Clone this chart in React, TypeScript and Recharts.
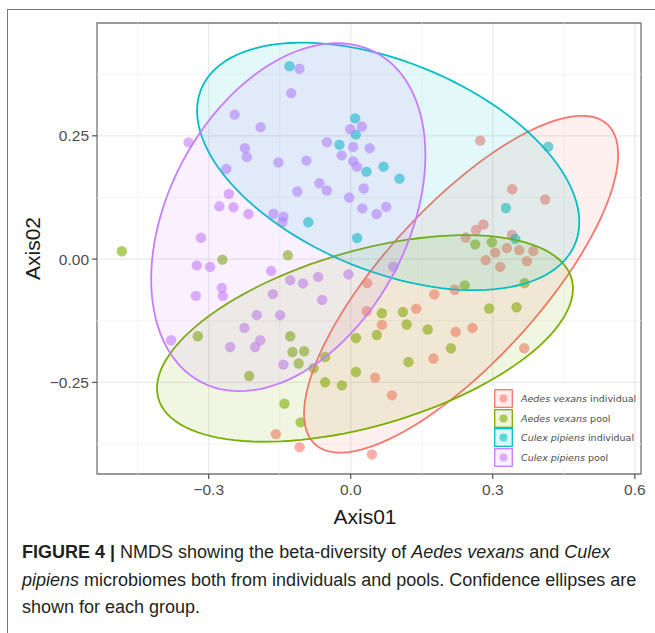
import React from 'react';
import { ScatterChart, Scatter, XAxis, YAxis, CartesianGrid, ReferenceLine, ReferenceArea, Legend } from 'recharts';

// NMDS scores: [Axis01, Axis02]
const AEDES_INDIVIDUAL: [number, number][] = [
  [0.2734, 0.2404], [0.341, 0.1417], [0.4107, 0.1209], [0.2804, 0.0701], [0.2645, 0.0589],
  [0.2428, 0.0437], [0.3404, 0.0488], [0.3051, 0.0132], [0.3298, 0.0224], [0.3558, 0.0183],
  [0.3854, 0.0163], [0.285, -0.002], [0.3157, -0.0157], [0.3721, -0.0041], [0.2195, -0.0622],
  [0.1766, -0.0715], [0.0347, -0.0488], [0.0336, -0.1057], [0.1382, -0.1006], [0.0657, -0.1335],
  [0.2216, -0.1478], [0.2569, -0.1396], [0.3664, -0.1809], [0.1747, -0.2018], [0.0516, -0.2404],
  [0.0868, -0.2764], [0.0446, -0.3963], [-0.1583, -0.3551], [-0.108, -0.3815],
];

const AEDES_POOL: [number, number][] = [
  [-0.4836, 0.0159], [-0.2711, -0.001], [-0.1329, 0.0077], [-0.3231, -0.1565], [-0.128, -0.1565],
  [-0.1232, -0.1884], [-0.0985, -0.187], [-0.1101, -0.2118], [-0.0541, -0.1986], [-0.0788, -0.2215],
  [-0.2147, -0.2372], [-0.0541, -0.25], [-0.0188, -0.2561], [-0.1401, -0.2933], [-0.1059, -0.3313],
  [0.011, -0.16], [0.011, -0.2291], [0.0551, -0.1539], [0.0657, -0.1098], [0.1101, -0.1073],
  [0.1181, -0.1327], [0.1625, -0.1429], [0.2115, -0.1809], [0.1219, -0.2087], [0.2924, -0.1002],
  [0.3501, -0.0976], [0.2407, -0.0533], [0.367, -0.0488], [0.2628, 0.0299], [0.2981, 0.0341],
];

const CULEX_INDIVIDUAL: [number, number][] = [
  [-0.1295, 0.3913], [0.0093, 0.2856], [0.0108, 0.2526], [-0.0239, 0.2321], [0.0332, 0.1774],
  [0.0691, 0.1876], [0.1029, 0.1632], [-0.0896, 0.0748], [0.0135, 0.0427], [0.4171, 0.2282],
  [0.3277, 0.1037], [0.3473, 0.0411],
];

const CULEX_POOL: [number, number][] = [
  [-0.1084, 0.3862], [-0.1259, 0.3368], [-0.2453, 0.2931], [-0.1904, 0.2677], [-0.3425, 0.2368],
  [-0.2237, 0.225], [-0.2195, 0.2073], [-0.2628, 0.1829], [-0.153, 0.1961], [-0.0936, 0.1998],
  [-0.0505, 0.2372], [-0.0013, 0.2636], [0.0235, 0.2689], [0.0051, 0.2276], [-0.0192, 0.2104],
  [0.0051, 0.1982], [0.0129, 0.1876], [0.0399, 0.225], [-0.0661, 0.1539], [-0.0505, 0.1392],
  [-0.1128, 0.1372], [-0.0034, 0.125], [0.0273, 0.1433], [0.0245, 0.103], [0.0547, 0.0915],
  [0.0748, 0.1063], [-0.2576, 0.1321], [-0.2776, 0.1071], [-0.2478, 0.1051], [-0.2161, 0.0915],
  [-0.1633, 0.0921], [-0.1422, 0.086], [-0.1443, 0.0752], [-0.3165, 0.0433], [-0.3252, -0.0128],
  [-0.2971, -0.0157], [-0.1682, -0.0238], [-0.128, -0.0427], [-0.101, -0.0494], [-0.0689, -0.036],
  [-0.0049, -0.0309], [0.0896, -0.0152], [-0.3273, -0.0746], [-0.2723, -0.0583], [-0.2702, -0.0746],
  [-0.1646, -0.0711], [-0.0604, -0.0827], [-0.1984, -0.1138], [-0.1492, -0.1138], [-0.2246, -0.1396],
  [-0.3795, -0.1646], [-0.2548, -0.1783], [-0.1914, -0.1646], [-0.202, -0.1783], [-0.1422, -0.214],
];

const SPECIES = ['Aedes vexans', 'Aedes vexans', 'Culex pipiens', 'Culex pipiens'];
const SAMPLE = ['individual', 'pool', 'individual', 'pool'];
const COLORS = ['#F8766D', '#7CAE00', '#00BFC4', '#C77CFF'];
const SERIES = [AEDES_INDIVIDUAL, AEDES_POOL, CULEX_INDIVIDUAL, CULEX_POOL];

// confidence ellipses: centre x, centre y, semi-major, semi-minor, rotation (deg)
const ELLIPSES: [number, number, number, number, number][] = [
  [0.233, -0.051, 0.448, 0.1615, 46.1],
  [0.03, -0.161, 0.453, 0.178, 15.4],
  [0.079, 0.188, 0.425, 0.213, -21.2],
  [-0.132, 0.085, 0.382, 0.25, 59.6],
];

const X_TICKS = [-0.3, 0, 0.3, 0.6];
const Y_TICKS = [-0.25, 0, 0.25];
const X_MINOR = [-0.45, -0.15, 0.15, 0.45];
const Y_MINOR = [-0.375, -0.125, 0.125, 0.375];
const X_DOMAIN = [-0.536, 0.613];
const Y_DOMAIN = [-0.436, 0.479];

const fmt = (digits: number) => (v: number) => v.toFixed(digits).replace('-', '\u2212');

const outline = (e: [number, number, number, number, number]) => {
  const [cx, cy, a, b, deg] = e;
  const r = (deg * Math.PI) / 180;
  return Array.from({ length: 121 }, (_, i) => {
    const t = (i / 120) * Math.PI * 2;
    return {
      x: cx + a * Math.cos(t) * Math.cos(r) - b * Math.sin(t) * Math.sin(r),
      y: cy + a * Math.cos(t) * Math.sin(r) + b * Math.sin(t) * Math.cos(r),
    };
  });
};

const ellipseLine = (color: string) => (props: any) => {
  const pts = (props.points || []).filter((p: any) => p.x != null && p.y != null);
  const d = pts.map((p: any, i: number) => `${i ? 'L' : 'M'}${p.x},${p.y}`).join('') + 'Z';
  return <path d={d} fill={color} fillOpacity={0.11} stroke={color} strokeWidth={1.8} />;
};

const dot = (color: string) => (props: any) => (
  <circle cx={props.cx} cy={props.cy} r={5.2} fill={color} fillOpacity={0.6} />
);

const renderLegend = () => (
  <div style={{ background: '#fff', width: 146, height: 82, padding: '4px 0 0 7px', boxSizing: 'border-box' }}>
    {SPECIES.map((sp, i) => (
      <div key={i} style={{ display: 'flex', alignItems: 'center', height: 19.6 }}>
        <svg width={19} height={19} style={{ flex: 'none' }}>
          <rect x={0.7} y={0.7} width={17.6} height={17.6} fill={COLORS[i]} fillOpacity={0.12} stroke={COLORS[i]} strokeWidth={1.3} />
          <circle cx={9.5} cy={9.5} r={4} fill={COLORS[i]} fillOpacity={0.6} />
        </svg>
        <span style={{ marginLeft: 8, fontFamily: '"DejaVu Sans", sans-serif', fontSize: 9.5, color: '#4d4d4d', whiteSpace: 'nowrap' }}>
          <i>{sp}</i> {SAMPLE[i]}
        </span>
      </div>
    ))}
  </div>
);

const tickStyle = { fontFamily: '"Liberation Sans", Arial, sans-serif', fontSize: 15.5, fill: '#4d4d4d' };
const titleStyle = { fontFamily: '"Liberation Sans", Arial, sans-serif', fontSize: 21, fill: '#1a1a1a' };

export default function App() {
  return (
    <div style={{ position: 'absolute', left: 0, top: 0, width: 655, height: 633, overflow: 'hidden', background: '#fff' }}>
      <div style={{ position: 'absolute', left: 7, top: 9, width: 720, height: 700, borderLeft: '1.5px solid #777', borderTop: '1.5px solid #777' }} />
      <div style={{ position: 'absolute', left: 0, top: 0 }}>
        <ScatterChart width={655} height={540} margin={{ top: 23, right: 14, bottom: 6, left: 10 }}>
          <CartesianGrid stroke="#e9e9e9" strokeWidth={1.2} />
          {X_MINOR.map(v => <ReferenceLine key={`x${v}`} x={v} stroke="#f1f1f1" strokeWidth={0.8} />)}
          {Y_MINOR.map(v => <ReferenceLine key={`y${v}`} y={v} stroke="#f1f1f1" strokeWidth={0.8} />)}
          <XAxis
            type="number"
            dataKey="x"
            domain={X_DOMAIN}
            ticks={X_TICKS}
            interval={0}
            allowDataOverflow
            height={60}
            axisLine={false}
            tickSize={5}
            tickMargin={5}
            tickLine={{ stroke: '#333' }}
            tick={tickStyle}
            tickFormatter={fmt(1)}
            label={{ value: 'Axis01', position: 'insideBottom', offset: 10, dx: -4, style: titleStyle }}
          />
          <YAxis
            type="number"
            dataKey="y"
            domain={Y_DOMAIN}
            ticks={Y_TICKS}
            interval={0}
            allowDataOverflow
            width={87}
            axisLine={false}
            tickSize={5}
            tickMargin={3}
            tickLine={{ stroke: '#333' }}
            tick={tickStyle}
            tickFormatter={fmt(2)}
            label={{ value: 'Axis02', angle: -90, position: 'insideLeft', offset: 23, style: { ...titleStyle, textAnchor: 'middle' } }}
          />
          {SERIES.map((s, i) => (
            <Scatter
              key={`p${i}`}
              name={`${SPECIES[i]} ${SAMPLE[i]}`}
              data={s.map(([x, y]) => ({ x, y }))}
              shape={dot(COLORS[i])}
              isAnimationActive={false}
            />
          ))}
          {ELLIPSES.map((e, i) => (
            <Scatter
              key={`e${i}`}
              data={outline(e)}
              line={ellipseLine(COLORS[i])}
              shape={() => <g />}
              legendType="none"
              isAnimationActive={false}
            />
          ))}
          <ReferenceArea x1={X_DOMAIN[0]} x2={X_DOMAIN[1]} y1={Y_DOMAIN[0]} y2={Y_DOMAIN[1]} fill="none" stroke="#7a7a7a" strokeWidth={1.3} />
          <Legend
            layout="vertical"
            align="center"
            verticalAlign="middle"
            content={renderLegend}
            wrapperStyle={{ left: 487, top: 385, width: 146, height: 82 }}
          />
        </ScatterChart>
      </div>
      <div
        style={{
          position: 'absolute',
          left: 22,
          top: 539,
          fontFamily: '"Liberation Sans", Arial, sans-serif',
          fontSize: 18,
          lineHeight: '27.5px',
          color: '#231f20',
          whiteSpace: 'nowrap',
        }}
      >
        <b>FIGURE 4 |</b> NMDS showing the beta-diversity of <i>Aedes vexans</i> and <i>Culex</i>
        <br />
        <i>pipiens</i> microbiomes both from individuals and pools. Confidence ellipses are
        <br />
        shown for each group.
      </div>
    </div>
  );
}
